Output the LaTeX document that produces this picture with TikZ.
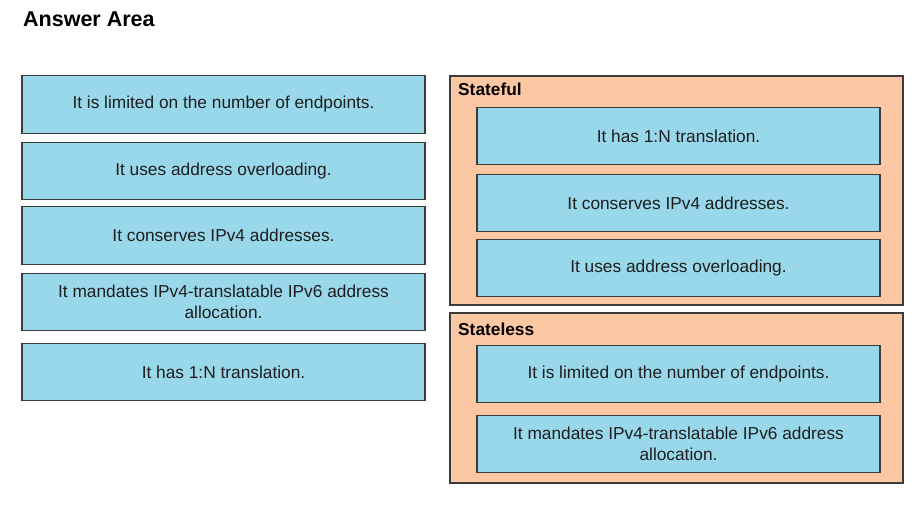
\documentclass[tikz,border=0pt]{standalone}
\usepackage{fontspec}
\setmainfont{Liberation Sans}
\definecolor{boxblue}{RGB}{153,216,234}
\definecolor{panelpeach}{RGB}{252,199,163}
\definecolor{edgegray}{RGB}{60,60,60}
\definecolor{textgray}{RGB}{30,30,30}
\tikzset{
  answer/.style={draw=edgegray,line width=1.2pt,fill=boxblue,text=textgray,
    minimum width=403pt,minimum height=57.5pt,align=center,inner sep=0pt,
    font=\fontsize{17.3}{21}\selectfont},
  panel/.style={draw=edgegray,line width=1.2pt,fill=panelpeach,
    minimum width=453pt,inner sep=0pt},
  paneltitle/.style={anchor=base west,inner sep=0pt,
    font=\fontsize{17.3}{21}\selectfont\bfseries}
}

\begin{document}
\begin{tikzpicture}[x=1pt,y=-1pt]
    \useasboundingbox (0,0) rectangle (924,508);
    \node[anchor=base west,inner sep=0pt,font=\fontsize{21.5}{24}\selectfont\bfseries] (title) at (23,27) {Answer Area};
    % answer choices
    \begin{scope}[shift={(0,0)}]
      \node[answer] (l1) at (223.5,104.5) {It is limited on the number of endpoints.};
      \node[answer] (l2) at (223.5,171) {It uses address overloading.};
      \node[answer] (l3) at (223.5,235.5) {It conserves IPv4 addresses.};
      \node[answer] (l4) at (223.5,302) {It mandates IPv4-translatable IPv6 address\\allocation.};
      \node[answer] (l5) at (223.5,372) {It has 1:N translation.};
    \end{scope}
    % stateful
    \begin{scope}[shift={(0,0)}]
      \node[panel,minimum height=229pt] (stateful) at (676.5,190.5) {};
      \node[paneltitle] (statefulname) at (458,96) {Stateful};
      \node[answer] (sf1) at (678.5,136) {It has 1:N translation.};
      \node[answer] (sf2) at (678.5,203) {It conserves IPv4 addresses.};
      \node[answer] (sf3) at (678.5,268) {It uses address overloading.};
    \end{scope}
    % stateless
    \begin{scope}[shift={(0,0)}]
      \node[panel,minimum height=170pt] (stateless) at (676.5,398) {};
      \node[paneltitle] (statelessname) at (458,335) {Stateless};
      \node[answer] (sl1) at (678.5,374) {It is limited on the number of endpoints.};
      \node[answer] (sl2) at (678.5,444) {It mandates IPv4-translatable IPv6 address\\allocation.};
    \end{scope}
  \end{tikzpicture}
\end{document}
